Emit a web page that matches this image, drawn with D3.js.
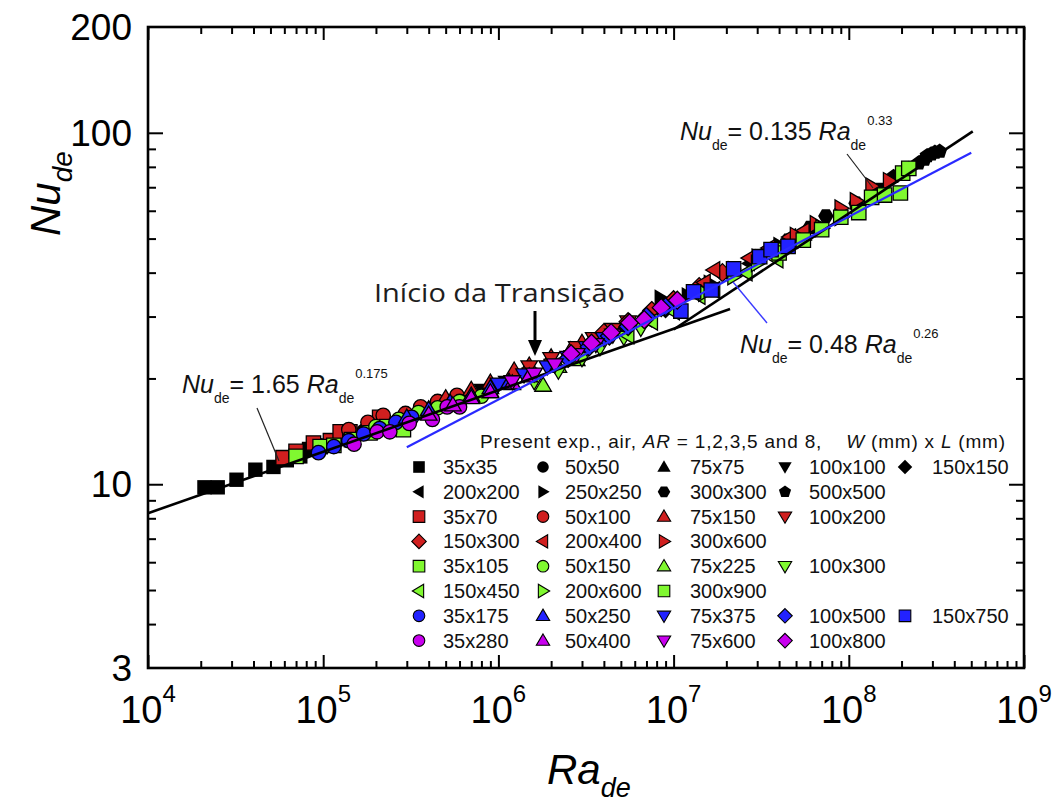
<!DOCTYPE html>
<html><head><meta charset="utf-8">
<script src="https://cdn.jsdelivr.net/npm/d3@7"></script>
<style>
html,body{margin:0;padding:0;background:#fff;}
svg{display:block;font-family:"Liberation Sans",Arial,sans-serif;}
</style></head>
<body><svg id="chart" width="1056" height="805"></svg>
<script>
// ---------------- data ----------------
const xMajorTicks = [1e4, 1e5, 1e6, 1e7, 1e8, 1e9];
const xTickExponents = ["4", "5", "6", "7", "8", "9"];
const yTickLabels = [3, 10, 100, 200];
const yMajorTicks = [10, 100];
const yMinorTicks = [4, 5, 6, 7, 8, 9, 20, 30, 40, 50, 60, 70, 80, 90];

const seriesNames = ["35x35","50x50","75x75","100x100","150x150",
  "200x200","250x250","300x300","500x500",
  "35x70","50x100","75x150","100x200",
  "150x300","200x400","300x600",
  "35x105","50x150","75x225","100x300",
  "150x450","200x600","300x900",
  "35x175","50x250","75x375","100x500","150x750",
  "35x280","50x400","75x600","100x800"];
// legend row of each series
const legendRows = [0,0,0,0,0, 1,1,1,1, 2,2,2,2, 3,3,3, 4,4,4,4, 5,5,5, 6,6,6,6,6, 7,7,7,7];

// [Ra_de, Nu_de]
const d35x35 = [[2.1e4,9.8],[2.5e4,9.8],[3.2e4,10.3],[4.1e4,11.0],[5.2e4,11.2],[6.2e4,11.7],[7.4e4,12.0],[8.3e4,12.6],[9e4,12.9]];
const d50x50 = [[6.7e4,12.0],[8e4,12.5],[1.0e5,12.9],[1.3e5,13.5],[1.7e5,14.2],[2.2e5,14.8]];
const d75x75 = [[2.3e5,14.9],[3e5,15.7],[4e5,16.5],[5.5e5,17.4],[7e5,18.1],[9e5,18.9]];
const d100x100 = [[6e5,17.6],[8e5,18.6],[1.1e6,19.6],[1.5e6,20.7],[2e6,21.9],[2.6e6,23.2]];
const d150x150 = [[2e6,22.2],[3e6,24.2],[4e6,26.0],[5.5e6,28.0],[7e6,29.5],[9e6,31.4]];
const d200x200 = [[5e6,27.4],[7e6,29.4],[1e7,32.2],[1.4e7,35.2],[2e7,39.5],[2.7e7,42.5]];
const d250x250 = [[8.4e6,34],[1.2e7,34.5],[1.6e7,37.5],[2.2e7,41],[3e7,44.5],[4e7,48]];
const d300x300 = [[3e7,44.5],[4.5e7,49.5],[6e7,53.8],[7.4e7,58],[1.1e8,63],[1.5e8,69]];
const d500x500 = [[1.8e8,75],[2.2e8,79],[2.5e8,82],[2.7e8,84],[2.8e8,86],[2.95e8,87],[3.1e8,88],[3.3e8,88.5]];
const d35x70 = [[5.9e4,11.9],[7e4,12.4],[8.8e4,13.1],[1.1e5,13.3],[1.25e5,14.1],[1.42e5,14.1],[1.85e5,14.6],[2.1e5,15.5]];
const d50x100 = [[1.4e5,14.3],[1.8e5,15.0],[2.2e5,15.7],[2.95e5,15.9],[3.6e5,16.6],[4.5e5,17.2],[5.8e5,17.9]];
const d75x150 = [[5e5,17.6],[7e5,18.6],[9e5,19.5],[1.23e6,21.1],[1.5e6,21.8],[2e6,23],[2.58e6,24.1],[3e6,25.3]];
const d100x200 = [[1.5e6,21.6],[2e6,22.8],[2.8e6,24.5],[3.5e6,26],[4.5e6,27.6],[5.5e6,29]];
const d150x300 = [[4e6,27],[5.5e6,29],[7.5e6,31.2],[1e7,33.5],[1.4e7,36.5],[1.9e7,40]];
const d200x400 = [[1.5e7,37.5],[1.7e7,40.7],[2.7e7,44],[3.5e7,47],[4.6e7,50.5],[5.5e7,52.5]];
const d300x600 = [[5e7,51],[6.5e7,55],[9e7,61],[1.1e8,64],[1.35e8,70.5],[1.7e8,73]];
const d35x105 = [[7e4,12.0],[9.6e4,12.8],[1.15e5,12.9],[1.45e5,13.4],[1.85e5,14.0],[2.3e5,14.6],[2.87e5,14.3]];
const d50x150 = [[2e5,14.6],[2.7e5,15.3],[3.5e5,16.0],[4.5e5,16.5],[6e5,17.2],[8e5,17.8]];
const d75x225 = [[7e5,17.8],[9e5,18.4],[1.2e6,19.3],[1.8e6,19.1],[2.2e6,21.6],[2.8e6,22.6]];
const d100x300 = [[1.6e6,19.6],[2.2e6,21.0],[3e6,22.8],[3.8e6,24.5],[5.2e6,26.2],[6.5e6,27.8]];
const d150x450 = [[5.5e6,26.5],[7.5e6,29],[1e7,31],[1.4e7,34.3],[1.7e7,35.7],[2.6e7,40],[3.9e7,43.6]];
const d200x600 = [[1.5e7,35],[2.2e7,39],[3e7,42.5],[4.2e7,46.5],[5.5e7,49.5],[7e7,53.5],[9e7,57.5]];
const d300x900 = [[4e7,45.5],[5.5e7,49.5],[7e7,53],[9e7,57.5],[1.14e8,59.3],[1.35e8,65.5],[1.6e8,66.5],[1.97e8,67.4],[2.03e8,76.8],[2.2e8,79.2]];
const d35x175 = [[9.4e4,12.3],[1.15e5,12.8],[1.4e5,13.3],[1.7e5,13.9],[2.1e5,14.4],[2.6e5,15],[3.2e5,15.5]];
const d50x250 = [[3e5,15.5],[4e5,16.3],[5.3e5,17.1],[7e5,17.9],[9e5,18.8],[1.15e6,19.6]];
const d75x375 = [[1e6,19.3],[1.4e6,20.5],[1.9e6,21.6],[2.5e6,23],[3.2e6,24.5],[4e6,26]];
const d100x500 = [[2.5e6,22.8],[3.3e6,24.6],[4.3e6,26.4],[5.5e6,28.1],[7e6,30],[9e6,32]];
const d150x750 = [[1.1e7,31.1],[1.3e7,35.3],[1.64e7,35.7],[2.2e7,41],[3.1e7,44.4],[3.6e7,46.5],[4.5e7,47.5]];
const d35x280 = [[1.5e5,13],[2.03e5,14.1],[2.4e5,14.1],[3.1e5,14.9],[4.2e5,15.3],[5.1e5,16.6],[6e5,16.6]];
const d50x400 = [[4e5,15.8],[5.5e5,16.8],[7e5,17.6],[9e5,18.3],[1.2e6,19.4],[1.5e6,20.3]];
const d75x600 = [[1.2e6,19.6],[1.6e6,20.6],[2.1e6,21.9],[2.8e6,23.4],[3.6e6,25],[4.5e6,26.6]];
const d100x800 = [[2.6e6,23.5],[3.4e6,25.2],[4.4e6,27],[5.6e6,28.8],[6.8e6,29.4],[8.5e6,31.8],[1.05e7,33.4]];

const seriesData = [d35x35,d50x50,d75x75,d100x100,d150x150,d200x200,d250x250,d300x300,d500x500,
  d35x70,d50x100,d75x150,d100x200,d150x300,d200x400,d300x600,
  d35x105,d50x150,d75x225,d100x300,d150x450,d200x600,d300x900,
  d35x175,d50x250,d75x375,d100x500,d150x750,
  d35x280,d50x400,d75x600,d100x800];

// correlations Nu = C * Ra^n, with Ra range of each drawn line
const fitNames = ["lam", "turb", "blue"];
const fitCoef = [1.65, 0.135, 0.48];
const fitExp = [0.175, 0.33, 0.26];
const fitRange = [[1e4, 2.1e7], [1e7, 5.1e8], [3e5, 5e8]];

// ---------------- styles ----------------
const shapeOf = {"35x35":"sq","50x50":"ci","75x75":"tu","100x100":"td","150x150":"di",
  "200x200":"tl","250x250":"tr","300x300":"hx","500x500":"pe",
  "35x70":"sq","50x100":"ci","75x150":"tu","100x200":"td","150x300":"di","200x400":"tl","300x600":"tr",
  "35x105":"sq","50x150":"ci","75x225":"tu","100x300":"td","150x450":"tl","200x600":"tr","300x900":"sq",
  "35x175":"ci","50x250":"tu","75x375":"td","100x500":"di","150x750":"sq",
  "35x280":"ci","50x400":"tu","75x600":"td","100x800":"di"};
const BLACK="#000000", RED="#d01f1f", GREEN="#80f830", BLUE="#2222ff", PURPLE="#c800ee";
function colorOf(i){ const r = legendRows[i]; return r<2?BLACK: r<4?RED: r<6?GREEN: r<7?BLUE:PURPLE; }

function symPath(t, r){
  const p = d3.path();
  if (t==="ci"){ p.arc(0,0,r,0,2*Math.PI); p.closePath(); return p.toString(); }
  let pts;
  const a=r*1.15, b=r*0.8;
  switch(t){
    case "sq": pts=[[-r,-r],[r,-r],[r,r],[-r,r]]; break;
    case "tu": pts=[[0,-a],[a*1.0,b],[-a*1.0,b]]; break;
    case "td": pts=[[0,a],[a,-b],[-a,-b]]; break;
    case "tl": pts=[[-a,0],[b,-a],[b,a]]; break;
    case "tr": pts=[[a,0],[-b,-a],[-b,a]]; break;
    case "di": pts=[[0,-r*1.25],[r*1.25,0],[0,r*1.25],[-r*1.25,0]]; break;
    case "hx": pts=d3.range(6).map(k=>[r*1.08*Math.cos(k*Math.PI/3),r*1.08*Math.sin(k*Math.PI/3)]); break;
    case "pe": pts=d3.range(5).map(k=>[r*1.1*Math.cos(-Math.PI/2+k*2*Math.PI/5),r*1.1*Math.sin(-Math.PI/2+k*2*Math.PI/5)]); break;
  }
  p.moveTo(pts[0][0],pts[0][1]); pts.slice(1).forEach(q=>p.lineTo(q[0],q[1])); p.closePath();
  return p.toString();
}

// ---------------- chart ----------------
const svg = d3.select("#chart");
const L=148, R=1024, T=27, B=668;
const x = d3.scaleLog().domain([1e4,1e9]).range([L,R]);
const y = d3.scaleLog().domain([3,200]).range([B,T]);

const xMinor = [];
for (let e=4;e<9;e++) for (let m=2;m<=9;m++) xMinor.push(m*Math.pow(10,e));

function styleAxis(g){ g.select(".domain").remove(); g.selectAll("line").attr("stroke","#000").attr("stroke-width",2); g.selectAll("text").remove(); }

svg.append("g").attr("transform",`translate(0,${B})`).call(d3.axisBottom(x).tickValues(xMajorTicks).tickSize(-13)).call(styleAxis);
svg.append("g").attr("transform",`translate(0,${B})`).call(d3.axisBottom(x).tickValues(xMinor).tickSize(-7)).call(styleAxis);
svg.append("g").attr("transform",`translate(0,${T})`).call(d3.axisTop(x).tickValues(xMajorTicks).tickSize(-13)).call(styleAxis);
svg.append("g").attr("transform",`translate(0,${T})`).call(d3.axisTop(x).tickValues(xMinor).tickSize(-7)).call(styleAxis);
svg.append("g").attr("transform",`translate(${L},0)`).call(d3.axisLeft(y).tickValues(yMajorTicks).tickSize(-15)).call(styleAxis);
svg.append("g").attr("transform",`translate(${L},0)`).call(d3.axisLeft(y).tickValues(yMinorTicks).tickSize(-8)).call(styleAxis);
svg.append("g").attr("transform",`translate(${R},0)`).call(d3.axisRight(y).tickValues(yMajorTicks).tickSize(-15)).call(styleAxis);
svg.append("g").attr("transform",`translate(${R},0)`).call(d3.axisRight(y).tickValues(yMinorTicks).tickSize(-8)).call(styleAxis);

// frame
svg.append("rect").attr("x",L).attr("y",T).attr("width",R-L).attr("height",B-T)
  .attr("fill","none").attr("stroke","#000").attr("stroke-width",2.6);

// tick labels
xMajorTicks.forEach((v,i)=>{
  const t = svg.append("text").attr("x",x(v)).attr("y",723).attr("text-anchor","middle")
    .attr("font-size",38).attr("fill","#000");
  t.append("tspan").text("10");
  t.append("tspan").attr("font-size",24).attr("dy",-21).text(xTickExponents[i]);
});
yTickLabels.forEach(v=>{
  svg.append("text").attr("x",132).attr("y",y(v)+13).attr("text-anchor","end")
    .attr("font-size",37).attr("fill","#000").text(v);
});

// axis titles
const yt = svg.append("text").attr("transform","translate(60,236) rotate(-90)")
  .attr("font-size",42).attr("font-style","italic").attr("fill","#000");
yt.append("tspan").text("Nu");
yt.append("tspan").attr("font-size",28).attr("dy",12).text("de");
const xt = svg.append("text").attr("x",547).attr("y",784)
  .attr("font-size",42).attr("font-style","italic").attr("fill","#000");
xt.append("tspan").text("Ra");
xt.append("tspan").attr("font-size",27).attr("dy",13).text("de");

// data markers
const gm = svg.append("g");
seriesData.forEach((arr,i)=>{
  const name = seriesNames[i], c = colorOf(i);
  gm.selectAll(null).data(arr).enter().append("path")
    .attr("transform",d=>`translate(${x(d[0])},${y(d[1])})`)
    .attr("d",symPath(shapeOf[name],7.2))
    .attr("fill",c).attr("stroke","#000").attr("stroke-width",c===BLACK?0:1.3);
});

// fit lines
const lineGen = d3.line().x(d=>x(d[0])).y(d=>y(d[1]));
fitNames.forEach((n,i)=>{
  const pts = fitRange[i].map(ra=>[ra, fitCoef[i]*Math.pow(ra,fitExp[i])]);
  svg.append("path").attr("d",lineGen(pts)).attr("fill","none")
    .attr("stroke", n==="blue"?"#2a2aff":"#000").attr("stroke-width", n==="blue"?2.2:2.6);
});

// leader lines
svg.append("line").attr("x1",257).attr("y1",408).attr("x2",279).attr("y2",461).attr("stroke","#222").attr("stroke-width",1.2);
svg.append("line").attr("x1",847).attr("y1",154).attr("x2",873).attr("y2",188).attr("stroke","#222").attr("stroke-width",1.2);
svg.append("line").attr("x1",733).attr("y1",282).attr("x2",767).attr("y2",323).attr("stroke","#3a3aff").attr("stroke-width",1.4);

// equations
function eq(x0, y0, coef, ex){
  const t = svg.append("text").attr("x",x0).attr("y",y0).attr("font-size",25).attr("fill","#111");
  t.append("tspan").attr("font-style","italic").text("Nu");
  t.append("tspan").attr("font-size",14).attr("dy",10).attr("dx",0).text("de");
  t.append("tspan").attr("dy",-10).text("= "+coef+" ");
  t.append("tspan").attr("font-style","italic").text("Ra");
  t.append("tspan").attr("font-size",14).attr("dy",10).text("de");
  t.append("tspan").attr("font-size",13).attr("dy",-25).attr("dx",1).text(ex);
}
eq(182,393,"1.65","0.175");
eq(680,140,"0.135","0.33");
eq(740,353,"0.48","0.26");

// transition annotation
svg.append("text").attr("x",374).attr("y",302).attr("font-family","'Open Sans',sans-serif")
  .attr("font-size",25).attr("textLength",251).attr("lengthAdjust","spacingAndGlyphs")
  .attr("fill","#1e1e1e").text("Início da Transição");
svg.append("line").attr("x1",535).attr("y1",311).attr("x2",535).attr("y2",342).attr("stroke","#000").attr("stroke-width",3);
svg.append("path").attr("d","M528,340 L542,340 L535,356 Z").attr("fill","#000");

// legend
const colSym = [419, 543, 664, 785, 905], colTxt = [443, 565, 690, 809, 932];
const lt = svg.append("text").attr("x",480).attr("y",448).attr("font-size",19).attr("fill","#111")
  .attr("textLength",525).attr("lengthAdjust","spacing")
  .style("white-space","pre");
lt.append("tspan").text("Present exp., air, ");
lt.append("tspan").attr("font-style","italic").text("AR");
lt.append("tspan").text(" = 1,2,3,5 and 8,    ");
lt.append("tspan").attr("font-style","italic").text("W");
lt.append("tspan").text(" (mm) x ");
lt.append("tspan").attr("font-style","italic").text("L");
lt.append("tspan").text(" (mm)");

const colCount = {};
seriesNames.forEach((name,i)=>{
  const r = legendRows[i];
  const c = colCount[r] || 0; colCount[r] = c+1;
  const cy = 467 + r*24.8;
  const col = colorOf(i);
  svg.append("path").attr("transform",`translate(${colSym[c]},${cy})`)
    .attr("d",symPath(shapeOf[name],5.8)).attr("fill",col)
    .attr("stroke","#000").attr("stroke-width",col===BLACK?0:1.1);
  svg.append("text").attr("x",colTxt[c]).attr("y",cy+7).attr("font-size",20).attr("fill","#111").text(name);
});
</script></body></html>
